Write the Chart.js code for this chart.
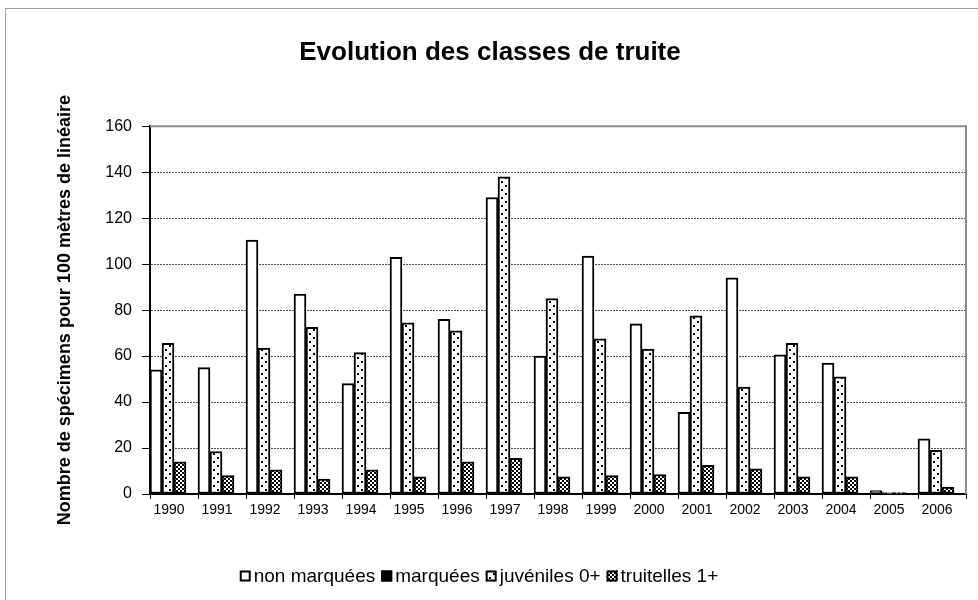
<!DOCTYPE html>
<html lang="fr">
<head>
<meta charset="UTF-8">
<title>Evolution des classes de truite</title>
<script src="https://cdn.jsdelivr.net/npm/chart.js@4"></script>
<style>
  html, body { margin: 0; padding: 0; background: #fff; }
  #wrap { width: 978px; height: 600px; position: relative; }
</style>
</head>
<body>
<div id="wrap"><canvas id="chart" width="978" height="600"></canvas></div>
<script>
// Densités par année (spécimens / 100 m de linéaire)
const annees = ['1990', '1991', '1992', '1993', '1994', '1995', '1996', '1997', '1998',
  '1999', '2000', '2001', '2002', '2003', '2004', '2005', '2006'];
const nonMarquees = [54, 55, 110.5, 87, 48, 103, 76, 129, 60, 103.5, 74, 35.5, 94, 60.5, 57, 1.5, 24];
const marquees = [0, 0, 0, 0, 0, 0, 0, 0, 0, 0, 0, 0, 0, 0, 0, 0, 0];
const juveniles = [65.5, 18.5, 63.5, 72.5, 61.5, 74.5, 71, 138, 85, 67.5, 63, 77.5, 46.5, 65.5, 51, 0.6, 19];
const truitelles = [14, 8, 10.5, 6.5, 10.5, 7.5, 14, 15.5, 7.5, 8, 8.5, 12.5, 11, 7.5, 7.5, 0.6, 3];
const yTicks = [0, 20, 40, 60, 80, 100, 120, 140, 160];

const FONT = "'Liberation Sans', Arial, sans-serif";

// motifs de remplissage façon Excel
function makePattern(size, draw) {
  const c = document.createElement('canvas');
  c.width = size; c.height = size;
  const g = c.getContext('2d');
  draw(g);
  return g.createPattern(c, 'repeat');
}
const pointille = makePattern(8, g => {
  g.fillStyle = '#fff'; g.fillRect(0, 0, 8, 8);
  g.fillStyle = '#000';
  g.fillRect(1, 1, 2, 2); g.fillRect(5, 5, 2, 2);
});
const damier = makePattern(4, g => {
  g.fillStyle = '#000'; g.fillRect(0, 0, 4, 4);
  g.fillStyle = '#fff';
  g.fillRect(0, 0, 2, 2); g.fillRect(2, 2, 2, 2);
});

// cadre du graphique et bordure grise de la zone de traçage
const cadre = {
  id: 'cadre',
  beforeDatasetsDraw(chart) {
    const { ctx, chartArea: a } = chart;
    ctx.save();
    ctx.strokeStyle = '#a0a0a0';
    ctx.lineWidth = 1;
    ctx.strokeRect(5.5, 8.5, 1000, 1000);
    ctx.strokeStyle = '#8c8c8c';
    ctx.lineWidth = 2;
    ctx.beginPath();
    ctx.moveTo(a.left, a.top);
    ctx.lineTo(a.right, a.top);
    ctx.lineTo(a.right, a.bottom);
    ctx.stroke();
    ctx.restore();
  }
};

// légende compacte : carré collé au texte, comme dans Excel
const legende = {
  id: 'legende',
  afterDraw(chart) {
    const { ctx } = chart;
    const box = 11, gapBox = 3, gapItem = 6, cx = 479, cy = 576;
    ctx.save();
    ctx.font = '19px ' + FONT;
    ctx.textBaseline = 'middle';
    const items = chart.data.datasets.map(ds => ({
      text: ds.label, fill: ds.backgroundColor, w: box + gapBox + ctx.measureText(ds.label).width
    }));
    const total = items.reduce((s, it) => s + it.w, 0) + gapItem * (items.length - 1);
    let x = cx - total / 2;
    items.forEach(it => {
      ctx.fillStyle = it.fill;
      ctx.fillRect(x, cy - box / 2, box, box);
      ctx.strokeStyle = '#000';
      ctx.lineWidth = 2;
      ctx.strokeRect(x + 1, cy - box / 2 + 1, box - 2, box - 2);
      ctx.fillStyle = '#000';
      ctx.fillText(it.text, x + box + gapBox, cy + 1);
      x += it.w + gapItem;
    });
    ctx.restore();
  }
};

const ctx = document.getElementById('chart').getContext('2d');
new Chart(ctx, {
  type: 'bar',
  data: {
    labels: annees,
    datasets: [
      { label: 'non marquées', data: nonMarquees, backgroundColor: '#fff', order: 0 },
      { label: 'marquées', data: marquees, backgroundColor: '#000', order: 3 },
      { label: 'juvéniles 0+', data: juveniles, backgroundColor: pointille, order: 1 },
      { label: 'truitelles 1+', data: truitelles, backgroundColor: damier, order: 2 }
    ]
  },
  options: {
    responsive: false,
    animation: false,
    datasets: {
      bar: { borderColor: '#000', borderWidth: 2, borderSkipped: false,
             categoryPercentage: 1, barPercentage: 1 }
    },
    layout: { padding: { left: 14, right: 12, top: 0, bottom: 0 } },
    plugins: {
      tooltip: { enabled: false },
      legend: { display: false },
      title: {
        display: true,
        text: 'Evolution des classes de truite',
        color: '#000',
        font: { family: FONT, size: 26, weight: 'bold', lineHeight: 1.2 },
        padding: { top: 37, bottom: 58 }
      }
    },
    scales: {
      x: {
        grid: { display: true, drawOnChartArea: false, drawTicks: true, tickLength: 5,
                tickColor: '#000', offset: true },
        border: { color: '#000', width: 2 },
        ticks: { color: '#000', font: { family: FONT, size: 14 }, padding: 3, maxRotation: 0,
                 labelOffset: -5 },
        afterFit: s => { s.height = 106; }
      },
      y: {
        min: 0,
        max: 160,
        afterBuildTicks: s => { s.ticks = yTicks.map(v => ({ value: v })); },
        grid: {
          color: c => (c.tick && (c.tick.value === 0 || c.tick.value === 160)) ? 'rgba(0,0,0,0)' : '#505050',
          lineWidth: 1,
          tickLength: 8,
          tickColor: '#000',
          tickBorderDash: []
        },
        border: { color: '#000', width: 2, dash: [2, 1] },
        ticks: { color: '#000', font: { family: FONT, size: 16 }, padding: 10 },
        title: {
          display: true,
          text: 'Nombre de spécimens pour 100 mètres de linéaire',
          color: '#000',
          font: { family: FONT, size: 18, weight: 'bold', lineHeight: 1.2 },
          padding: { top: 40, bottom: 0 }
        },
        afterFit: s => { s.width = 136; }
      }
    }
  },
  plugins: [cadre, legende]
});
</script>
</body>
</html>
